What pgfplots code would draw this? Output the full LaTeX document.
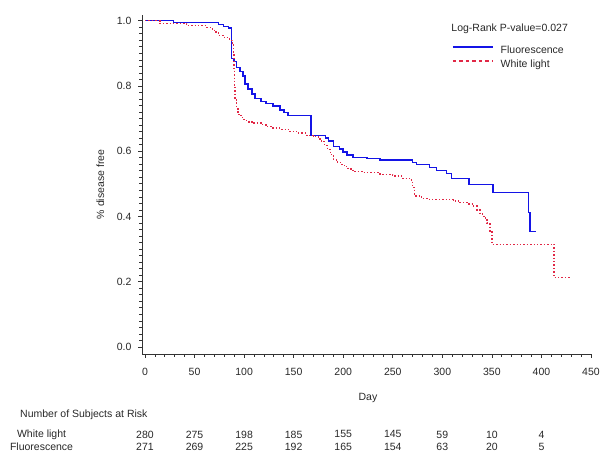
\documentclass[border=0pt]{standalone}
\usepackage{fontspec}
\setmainfont{Liberation Sans}
\usepackage{pgfplots}
\pgfplotsset{compat=1.18}
\definecolor{kmblue}{RGB}{20,20,230}
\definecolor{kmred}{RGB}{225,40,70}
\definecolor{txt}{RGB}{40,40,40}
\newcommand{\fs}{\fontsize{10.5bp}{12.6bp}\selectfont}
\begin{document}
\begin{tikzpicture}
\useasboundingbox (0,0) rectangle (614bp,465bp);
\begin{axis}[
  at={(142bp,111bp)}, anchor=south west,
  scale only axis, width=449bp, height=339bp,
  xmin=-3.03, xmax=450, ymin=-0.0215, ymax=1.0175,
  axis x line*=bottom, axis y line*=left,
  axis line style={black!80, line width=0.8bp, -},
  xtick={0,50,100,150,200,250,300,350,400,450}, minor x tick num=4,
  ytick={0,0.2,0.4,0.6,0.8,1}, minor y tick num=9,
  tick align=outside, major tick length=4bp, minor tick length=3bp,
  tick style={black!80, line width=0.7bp},
  font=\fs,
  /pgf/number format/assume math mode=true,
  ticklabel style={font=\fs, text=txt},
  yticklabel style={xshift=-3bp, /pgf/number format/.cd, fixed, fixed zerofill, precision=1},
  xticklabel style={yshift=-7bp, /pgf/number format/.cd, fixed, precision=0},
  clip=false,
  xlabel={Day},
  every axis x label/.style={at={(axis cs:225,-0.156)}, anchor=center, font=\fs, text=txt},
  ylabel={\% disease free},
  every axis y label/.style={at={(axis cs:-45,0.498)}, anchor=center, rotate=90, font=\fs, text=txt},
  legend cell align=left,
  legend style={at={(axis cs:309.7,0.925)}, anchor=north west, draw=none, fill=none,
    inner sep=0pt, row sep=3.5bp, font=\fs\color{txt},
    nodes={inner sep=0pt, text height=8bp, text depth=2.5bp},
    /tikz/every odd column/.append style={column sep=7bp}},
]
% Fluorescence
\addplot[const plot, kmblue, line width=1.5bp, forget plot] coordinates {
(0,1.0) (29,0.994) (74,0.988) (79,0.982) (84,0.977) (87.5,0.884) (90,0.875)
(92.5,0.857) (96,0.845) (99,0.830) (101,0.806) (104,0.790) (108,0.775) (111,0.761)
(117,0.753) (122,0.746) (129,0.738) (136,0.727) (140,0.718) (144.5,0.709)
(167.5,0.648) (182,0.640) (185,0.631) (190,0.615) (196,0.607) (200,0.597)
(204,0.588) (210,0.580) (224,0.577) (237,0.573) (270,0.566) (274,0.560)
(287,0.550) (294,0.541) (304,0.532) (309,0.517) (327,0.498) (351,0.473)
(387,0.412) (388.5,0.354) (395,0.354)};
\addlegendimage{legend image code/.code={\draw[kmblue, line width=1.5bp, solid] (0bp,3.5bp) -- (40bp,3.5bp);}}
\addlegendentry{Fluorescence}
% White light
\addplot[const plot, kmred, line width=1.4bp, dash pattern=on 1.4bp off 2bp, forget plot] coordinates {
(0,1.0) (15,0.992) (42,0.985) (62,0.980) (66,0.975) (70,0.965) (74,0.955)
(80,0.948) (85,0.940) (88,0.925) (89,0.900) (89.7,0.850) (90.2,0.800) (91,0.758)
(92.5,0.730) (94,0.713) (97,0.703) (100,0.695) (105,0.690) (110,0.686)
(117,0.681) (122,0.676) (127,0.671) (136,0.667) (145,0.661) (153,0.656)
(163,0.648) (170,0.645) (175,0.638) (178,0.630) (181,0.618) (184,0.606)
(187,0.590) (190,0.576) (193,0.567) (197,0.560) (201,0.553) (205,0.545)
(210,0.537) (220,0.534) (237,0.529) (250,0.524) (260,0.517) (268,0.512)
(270,0.488) (272,0.463) (279,0.455) (287,0.452) (311,0.448) (318,0.443)
(325,0.438) (331,0.432) (335,0.420) (338,0.407) (342,0.395) (345,0.380)
(348,0.356) (350,0.315) (412.7,0.213) (429,0.213)};
\addlegendimage{legend image code/.code={\draw[kmred, line width=1.6bp, dash pattern=on 3.5bp off 3bp] (0bp,3.5bp) -- (40bp,3.5bp);}}
\addlegendentry{White light}
% numbers at risk
\addplot[only marks, mark=text, text mark={}, forget plot,
  nodes near coords, point meta=explicit symbolic,
  every node near coord/.style={anchor=center, font=\fs, text=txt, inner sep=0pt}]
  coordinates {(0,-0.268)[280] (50,-0.268)[275] (100,-0.268)[198] (150,-0.268)[185]
  (200,-0.268)[155] (250,-0.268)[145] (300,-0.268)[59] (350,-0.268)[10] (400,-0.268)[4]};
\addplot[only marks, mark=text, text mark={}, forget plot,
  nodes near coords, point meta=explicit symbolic,
  every node near coord/.style={anchor=center, font=\fs, text=txt, inner sep=0pt}]
  coordinates {(0,-0.306)[271] (50,-0.306)[269] (100,-0.306)[225] (150,-0.306)[192]
  (200,-0.306)[165] (250,-0.306)[154] (300,-0.306)[63] (350,-0.306)[20] (400,-0.306)[5]};
\node[anchor=mid west, inner sep=0pt, text=txt, font=\fs] at (axis cs:309,0.975) {Log-Rank P-value=0.027};
\node[anchor=west, inner sep=0pt, text=txt, font=\fs] at (axis cs:-126.1,-0.208) {Number of Subjects at Risk};
\node[anchor=center, inner sep=0pt, text=txt, font=\fs] at (axis cs:-104.4,-0.268) {White light};
\node[anchor=center, inner sep=0pt, text=txt, font=\fs] at (axis cs:-104.4,-0.306) {Fluorescence};
\end{axis}
\end{tikzpicture}
\end{document}
